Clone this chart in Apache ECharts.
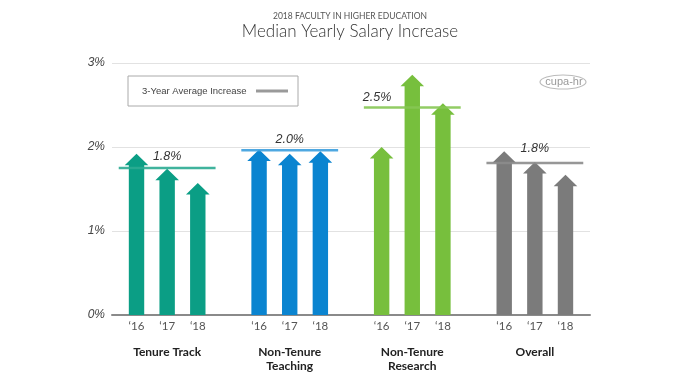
<!DOCTYPE html>
<html><head><meta charset="utf-8">
<script src="https://cdn.jsdelivr.net/npm/echarts@6/dist/echarts.min.js"></script>
<style>html,body{margin:0;padding:0;background:#fff}#c{width:700px;height:383px}</style>
</head><body><div id="c"></div>
<script>
// ---- data ----
const groupNames = ['Tenure Track', 'Non-Tenure\nTeaching', 'Non-Tenure\nResearch', 'Overall'];
const yearLabels = ['\u201816', '\u201817', '\u201818'];
const tenureTrack = [1.92, 1.74, 1.57];
const nonTenureTeaching = [1.97, 1.92, 1.95];
const nonTenureResearch = [2.00, 2.86, 2.52];
const overall = [1.95, 1.82, 1.67];
const averages = [1.75, 1.96, 2.47, 1.81];
const averageLabels = ['1.8%', '2.0%', '2.5%', '1.8%'];
const yTicks = [0, 1, 2, 3];

// ---- style ----
const barColors = ['#0b9e85', '#0a84d0', '#77bf3d', '#7b7b7b'];
const lineColors = ['#2bab92', '#3c9ede', '#86c653', '#8c8c8c'];
const labelShift = [0, 0, -1.15, 0];
const labelDy = [11, 11, 10, 14];

const seriesValues = [tenureTrack, nonTenureTeaching, nonTenureResearch, overall];
const arrowData = [];
const tickData = [];
seriesValues.forEach((vals, g) => {
  vals.forEach((v, i) => {
    const x = g * 4 + i;
    arrowData.push([x, v, g]);
    tickData.push([x, 0, i]);
  });
});
const avgData = averages.map((a, g) => [g * 4 + 1, a, g]);
const groupData = groupNames.map((n, g) => [g * 4 + 1, 0, g]);

const chart = echarts.init(document.getElementById('c'));
chart.setOption({
  animation: false,
  backgroundColor: '#fff',
  title: [
    { text: '2018 FACULTY IN HIGHER EDUCATION', left: 'center', top: 7,
      textStyle: { fontFamily: 'Lato', fontSize: 8.5, fontWeight: 'normal', color: '#555' } },
    { text: 'Median Yearly Salary Increase', left: 'center', top: 18,
      textStyle: { fontFamily: 'Lato', fontSize: 17, fontWeight: 300, color: '#333' } }
  ],
  grid: { left: 112, right: 110, top: 63, bottom: 68 },
  xAxis: {
    type: 'value', min: -0.8, max: 14.8,
    axisLine: { show: true, lineStyle: { color: '#8a8a8a', width: 2 } },
    axisTick: { show: false }, axisLabel: { show: false }, splitLine: { show: false }
  },
  yAxis: {
    type: 'value', min: yTicks[0], max: yTicks[yTicks.length - 1], interval: 1,
    axisLine: { show: false }, axisTick: { show: false },
    axisLabel: { formatter: '{value}%', fontStyle: 'italic', fontFamily: 'Liberation Sans', fontSize: 12, color: '#444', margin: 7 },
    splitLine: { lineStyle: { color: '#e2e2e2', width: 1 } }
  },
  series: [
    {
      type: 'custom', data: arrowData, encode: { x: 0, y: 1 },
      renderItem: function (params, api) {
        const x = api.value(0), v = api.value(1), g = api.value(2);
        const b = api.coord([x, 0]), t = api.coord([x, v]);
        const sw = 7.7, hw = 11.8, hh = 11.5;
        return {
          type: 'polygon',
          shape: { points: [[b[0] - sw, b[1]], [b[0] - sw, t[1] + hh], [b[0] - hw, t[1] + hh], [t[0], t[1]],
            [b[0] + hw, t[1] + hh], [b[0] + sw, t[1] + hh], [b[0] + sw, b[1]]] },
          style: { fill: barColors[g] }
        };
      }
    },
    {
      type: 'custom', data: avgData, encode: { x: 0, y: 1 }, z: 5,
      renderItem: function (params, api) {
        const c = api.value(0), a = api.value(1), g = api.value(2);
        const p1 = api.coord([c - 1.58, a]), p2 = api.coord([c + 1.58, a]);
        const lp = api.coord([c + labelShift[g], a]);
        return {
          type: 'group', children: [
            { type: 'line', shape: { x1: p1[0], y1: p1[1], x2: p2[0], y2: p2[1] },
              style: { stroke: lineColors[g], lineWidth: 2.5, opacity: 0.9 } },
            { type: 'text', x: lp[0], y: lp[1] - labelDy[g],
              style: { text: averageLabels[g], fontFamily: 'Liberation Sans', fontStyle: 'italic', fontSize: 12.5,
                fill: '#333', align: 'center', verticalAlign: 'middle' } }
          ]
        };
      }
    },
    {
      type: 'custom', data: tickData, encode: { x: 0, y: 1 },
      renderItem: function (params, api) {
        const p = api.coord([api.value(0), 0]);
        return { type: 'text', x: p[0], y: p[1] + 11,
          style: { text: yearLabels[api.value(2)], fontFamily: 'Lato', fontSize: 11.5, fill: '#555', align: 'center', verticalAlign: 'middle' } };
      }
    },
    {
      type: 'custom', data: groupData, encode: { x: 0, y: 1 },
      renderItem: function (params, api) {
        const p = api.coord([api.value(0), 0]);
        return { type: 'text', x: p[0], y: p[1] + 30,
          style: { text: groupNames[api.value(2)], fontFamily: 'Lato', fontWeight: 'bold', fontSize: 12, lineHeight: 14,
            fill: '#222', align: 'center', verticalAlign: 'top' } };
      }
    }
  ],
  graphic: [
    { type: 'rect', shape: { x: 128, y: 76, width: 170, height: 30 }, style: { fill: '#fff', stroke: '#aaa', lineWidth: 1 } },
    { type: 'text', x: 142, y: 91, style: { text: '3-Year Average Increase', fontFamily: 'Liberation Sans', fontSize: 9.5, fill: '#444', verticalAlign: 'middle' } },
    { type: 'line', shape: { x1: 256, y1: 91, x2: 288, y2: 91 }, style: { stroke: '#9a9a9a', lineWidth: 3 } },
    { type: 'ellipse', shape: { cx: 563, cy: 82, rx: 23, ry: 7 }, style: { fill: 'none', stroke: '#bbb', lineWidth: 1.2 } },
    { type: 'text', x: 564, y: 82, style: { text: 'cupa-hr', fontFamily: 'Liberation Sans', fontSize: 11, fill: '#999', align: 'center', verticalAlign: 'middle' } }
  ]
});
</script></body></html>
